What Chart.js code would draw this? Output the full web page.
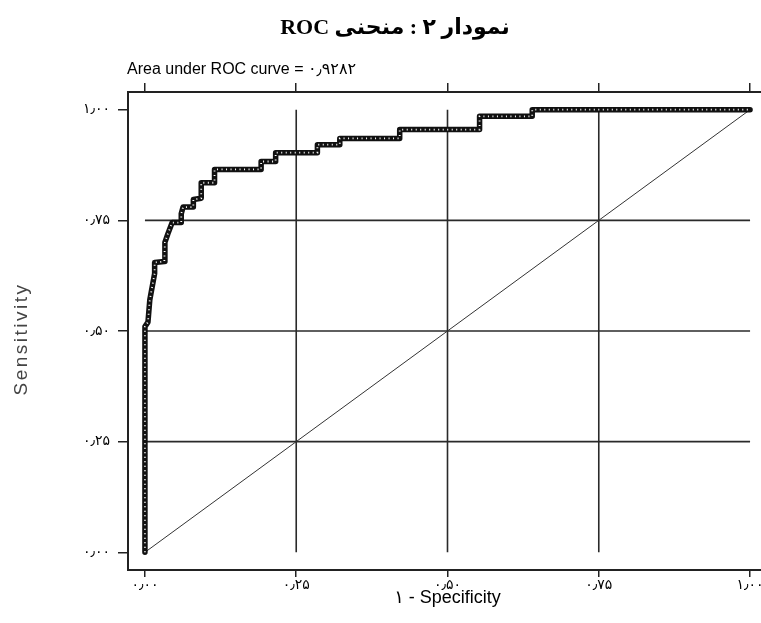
<!DOCTYPE html>
<html lang="fa">
<head>
<meta charset="utf-8">
<title>ROC</title>
<script src="https://cdn.jsdelivr.net/npm/chart.js@4.4.1/dist/chart.umd.min.js"></script>
<style>
  html, body { margin: 0; padding: 0; background: #fff; overflow: hidden; }
  #grafico { display: block; }
</style>
</head>
<body>
<canvas id="grafico" width="780" height="623"></canvas>
<script>
// ---- ROC curve ----
const fpr = [0, 0, 0.005, 0.008, 0.012, 0.016, 0.016, 0.032, 0.033, 0.038, 0.045, 0.060, 0.060, 0.063, 0.080, 0.080, 0.093, 0.093, 0.115, 0.115, 0.192, 0.192, 0.216, 0.216, 0.285, 0.285, 0.322, 0.322, 0.421, 0.421, 0.553, 0.553, 0.640, 0.640, 1];
const tpr = [0, 0.510, 0.520, 0.570, 0.600, 0.630, 0.655, 0.657, 0.700, 0.720, 0.745, 0.745, 0.765, 0.780, 0.780, 0.797, 0.800, 0.835, 0.835, 0.865, 0.865, 0.883, 0.883, 0.903, 0.903, 0.921, 0.921, 0.935, 0.935, 0.955, 0.955, 0.985, 0.985, 1, 1];

const diagonal = [0, 1];
const gridValues = [0.25, 0.5, 0.75];
const tickValues = [0, 0.25, 0.5, 0.75, 1];
const tickLabels = ["۰٫۰۰", "۰٫۲۵", "۰٫۵۰", "۰٫۷۵", "۱٫۰۰"];

const titulo = "نمودار ۲ : منحنی ROC";
const textoArea = "Area under ROC curve = ۰٫۹۲۸۲";
const tituloX = "۱ - Specificity";
const tituloY = "Sensitivity";

// ---- helpers ----
const pontos = (xs, ys) => xs.map((x, i) => ({ x: x, y: ys[i] }));
const ini = tickValues[0];
const fim = tickValues[tickValues.length - 1];

const linhasGrade = [];
gridValues.forEach((v) => {
  const estilo = { showLine: true, borderColor: "#2a2a2a", borderWidth: 1.6, pointRadius: 0, order: 3 };
  linhasGrade.push({ ...estilo, data: [{ x: v, y: ini }, { x: v, y: fim }] });
  linhasGrade.push({ ...estilo, data: [{ x: ini, y: v }, { x: fim, y: v }] });
});

// texts drawn by hand (title rtl, stretched y title)
const textosExtras = {
  id: "textosExtras",
  afterDraw(chart) {
    const ctx = chart.ctx;
    const area = chart.chartArea;
    ctx.save();
    ctx.fillStyle = "#000";
    ctx.textBaseline = "middle";
    ctx.direction = "rtl";
    ctx.textAlign = "center";
    ctx.font = 'bold 22px "Liberation Serif", "DejaVu Sans"';
    ctx.fillText(titulo, 395, 28);

    ctx.direction = "ltr";
    ctx.textAlign = "left";
    ctx.font = '16px "Liberation Sans", "DejaVu Sans"';
    ctx.fillText(textoArea, area.left - 1, 70);

    ctx.translate(22, (area.top + area.bottom) / 2 + 8);
    ctx.rotate(-Math.PI / 2);
    ctx.textAlign = "center";
    ctx.fillStyle = "#444";
    ctx.font = '19px "Liberation Sans", "DejaVu Sans"';
    ctx.letterSpacing = "2.5px";
    ctx.fillText(tituloY, 0, 0);
    ctx.restore();
  },
};

const fixarTicks = (s) => {
  s.ticks = tickValues.map((v) => ({ value: v }));
};

const grade = { drawOnChartArea: false, drawTicks: true, color: "#222", lineWidth: 1.5 };
const borda = { display: true, color: "#222", width: 2 };
const fonteTicks = { family: '"DejaVu Sans"', size: 14 };

new Chart(document.getElementById("grafico"), {
  type: "scatter",
  data: {
    datasets: [
      {
        data: pontos(fpr, tpr),
        showLine: true,
        borderColor: "#fff",
        borderWidth: 1.8,
        borderDash: [1, 3.5],
        pointRadius: 0,
        order: 0,
      },
      {
        data: pontos(fpr, tpr),
        showLine: true,
        borderColor: "#111",
        borderWidth: 5.5,
        borderJoinStyle: "round",
        borderCapStyle: "round",
        pointRadius: 0,
        order: 1,
      },
      {
        data: pontos(diagonal, diagonal),
        showLine: true,
        borderColor: "#333",
        borderWidth: 1,
        pointRadius: 0,
        order: 2,
      },
      ...linhasGrade,
    ],
  },
  options: {
    responsive: false,
    animation: false,
    layout: { padding: { top: 83, right: 13, bottom: 0, left: 0 } },
    plugins: {
      legend: { display: false },
      tooltip: { enabled: false },
    },
    scales: {
      x: {
        type: "linear",
        position: "bottom",
        min: -0.028,
        max: 1.028,
        afterBuildTicks: fixarTicks,
        afterFit: (s) => { s.height = 53; },
        grid: { ...grade, tickLength: 7 },
        border: borda,
        ticks: {
          callback: (v, i) => tickLabels[i],
          font: fonteTicks,
          color: "#000",
          padding: 0,
          maxRotation: 0,
          autoSkip: false,
        },
        title: {
          display: true,
          text: tituloX,
          font: { family: '"Liberation Sans", "DejaVu Sans"', size: 18 },
          color: "#000",
          padding: { top: 0, bottom: 14 },
        },
      },
      x2: {
        type: "linear",
        position: "top",
        min: -0.028,
        max: 1.028,
        afterBuildTicks: fixarTicks,
        afterFit: (s) => { s.height = 9; },
        grid: { ...grade, tickLength: 9 },
        border: borda,
        ticks: { display: false },
      },
      y: {
        type: "linear",
        position: "left",
        min: -0.04,
        max: 1.04,
        afterBuildTicks: fixarTicks,
        afterFit: (s) => { s.width = 128; },
        grid: { ...grade, tickLength: 10 },
        border: borda,
        ticks: {
          callback: (v, i) => tickLabels[i],
          font: fonteTicks,
          color: "#000",
          padding: 8,
        },
      },
    },
  },
  plugins: [textosExtras],
});
</script>
</body>
</html>
